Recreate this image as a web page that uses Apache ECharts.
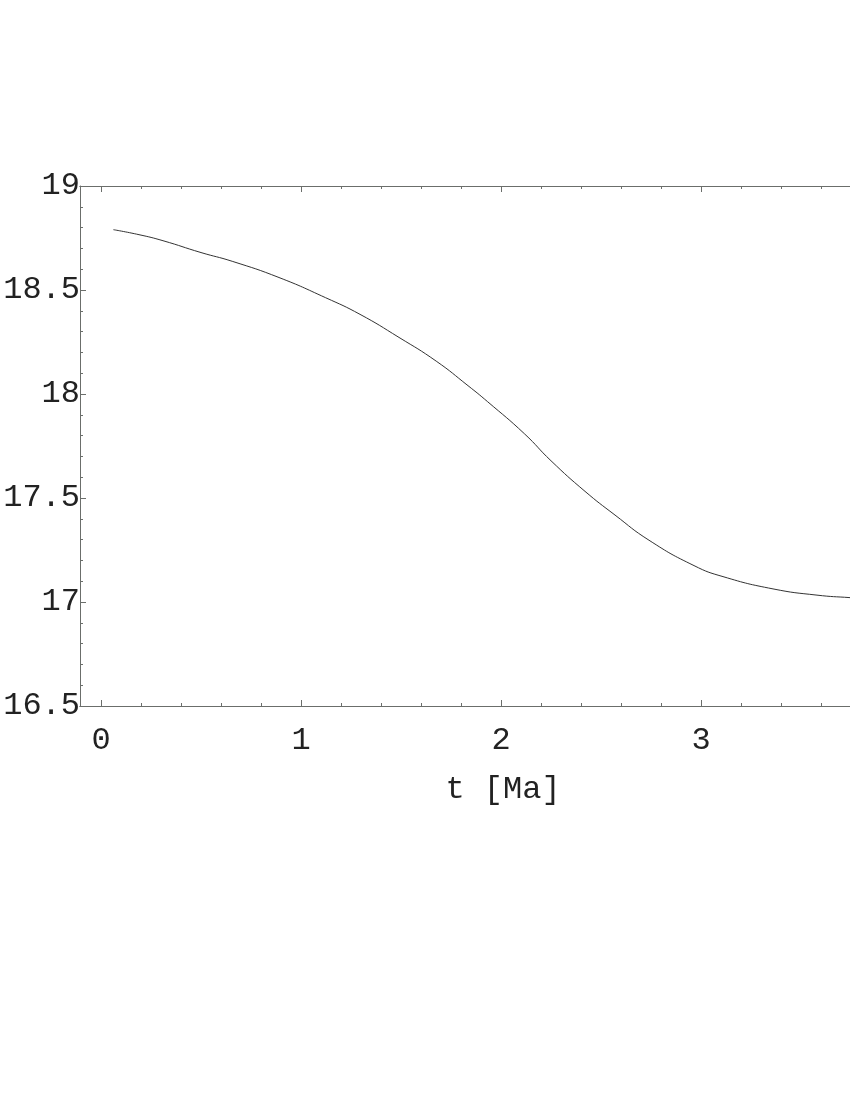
<!DOCTYPE html>
<html>
<head>
<meta charset="utf-8">
<script src="https://cdn.jsdelivr.net/npm/echarts@6/dist/echarts.min.js"></script>
<style>
  html, body { margin: 0; padding: 0; background: #fff; }
  #chart { width: 850px; height: 1100px; }
</style>
</head>
<body>
<div id="chart"></div>
<script>
// t [Ma] and the plotted value
var tValues = [0.062, 0.19, 0.31, 0.50, 0.656, 0.89, 1.123, 1.295, 1.49, 1.676, 1.835, 1.933,
  2.117, 2.25, 2.42, 2.57, 2.74, 2.965, 3.11, 3.36, 3.58, 3.745, 3.8];
var yValues = [18.790, 18.766, 18.737, 18.680, 18.638, 18.560, 18.463, 18.383, 18.272, 18.158, 18.040, 17.963,
  17.809, 17.679, 17.532, 17.418, 17.297, 17.175, 17.122, 17.063, 17.033, 17.021, 17.018];
var xMajorTicks = [0, 1, 2, 3, 4];
var xMinorTicks = [0.2, 0.4, 0.6, 0.8, 1.2, 1.4, 1.6, 1.8, 2.2, 2.4, 2.6, 2.8, 3.2, 3.4, 3.6, 3.8, 4.2];

var points = tValues.map(function (t, i) { return [t, yValues[i]]; });

var axisColor = '#6b6e6b';
var textColor = '#222';
var font = 'Liberation Mono';
var xMin = -0.105, xMax = 4.125;

function xAxisDef(pos, ticks, len, withLabels) {
  return {
    type: 'value', position: pos, min: xMin, max: xMax,
    axisLine: { show: true, onZero: false, lineStyle: { color: axisColor, width: 1 } },
    splitLine: { show: false },
    axisTick: { show: true, inside: true, length: len, customValues: ticks, lineStyle: { color: axisColor } },
    axisLabel: withLabels
      ? { show: true, customValues: xMajorTicks, margin: 19, color: textColor, fontFamily: font, fontSize: 32 }
      : { show: false }
  };
}

var chart = echarts.init(document.getElementById('chart'));
var option = {
  animation: false,
  backgroundColor: '#fff',
  grid: { left: 80, top: 186, width: 846, height: 520, containLabel: false, outerBoundsMode: 'none' },
  xAxis: [
    Object.assign(xAxisDef('bottom', xMajorTicks, 6, true), {
      name: 't [Ma]', nameLocation: 'middle', nameGap: 68,
      nameTextStyle: { color: textColor, fontFamily: font, fontSize: 32 }
    }),
    xAxisDef('bottom', xMinorTicks, 3, false),
    xAxisDef('top', xMajorTicks, 6, false),
    xAxisDef('top', xMinorTicks, 3, false)
  ],
  yAxis: [{
    type: 'value', min: 16.5, max: 19, interval: 0.5,
    axisLine: { show: true, onZero: false, lineStyle: { color: axisColor, width: 1 } },
    splitLine: { show: false },
    axisTick: { show: true, inside: true, length: 6, lineStyle: { color: axisColor } },
    minorTick: { show: true, splitNumber: 5, length: 3, lineStyle: { color: axisColor } },
    minorSplitLine: { show: false },
    axisLabel: { margin: 0, color: textColor, fontFamily: font, fontSize: 32 }
  }],
  series: [{
    type: 'line',
    data: points,
    smooth: true,
    showSymbol: false,
    lineStyle: { color: '#333', width: 1 }
  }]
};
chart.setOption(option);
</script>
</body>
</html>
